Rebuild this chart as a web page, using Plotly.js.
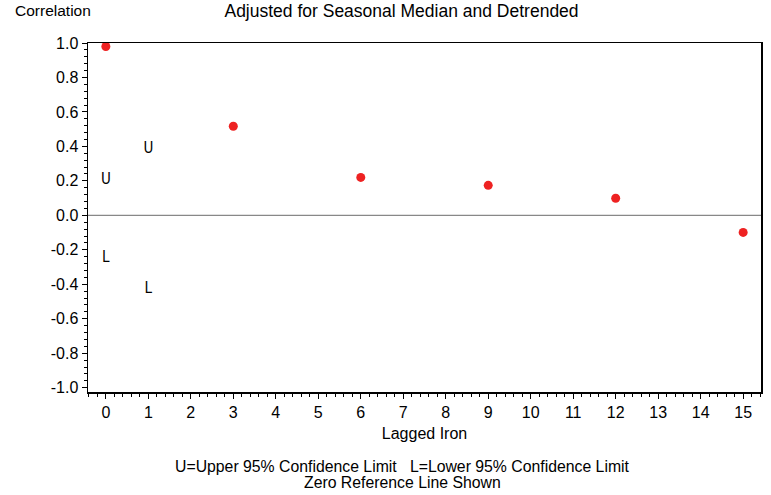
<!DOCTYPE html>
<html>
<head>
<meta charset="utf-8">
<script src="https://cdn.plot.ly/plotly-3.0.1.min.js"></script>
<style>body{margin:0;padding:0;background:#fff;}#chart{width:771px;height:495px;}</style>
</head>
<body>
<div id="chart"></div>
<script>
const lags = [0, 3, 6, 9, 12, 15];
const correlations = [0.98, 0.517, 0.22, 0.174, 0.099, -0.099];
const limitLags = [0, 1];
const upperLimits = [0.203, 0.384];
const lowerLimits = [-0.25, -0.43];
const xTicks = [0,1,2,3,4,5,6,7,8,9,10,11,12,13,14,15];
const yTicks = [1.0,0.8,0.6,0.4,0.2,0.0,-0.2,-0.4,-0.6,-0.8,-1.0];

const font = "Liberation Sans, Arial, sans-serif";
const glyphFont = {family: "DejaVu Sans Condensed, Roboto Condensed, Liberation Sans Narrow, DejaVu Sans, sans-serif", size: 15, color: '#000000', weight: 300};
const traces = [
  {x: lags, y: correlations, type: 'scatter', mode: 'markers',
   marker: {color: '#ee2222', size: 9}, cliponaxis: false},
  {x: limitLags, y: upperLimits, type: 'scatter', mode: 'text',
   text: upperLimits.map(() => 'U'), textposition: 'middle center', textfont: glyphFont},
  {x: limitLags, y: lowerLimits, type: 'scatter', mode: 'text',
   text: lowerLimits.map(() => 'L'), textposition: 'middle center', textfont: glyphFont}
];

const layout = {
  width: 771, height: 495,
  margin: {l: 88, r: 10, t: 43, b: 103},
  showlegend: false,
  paper_bgcolor: '#fff', plot_bgcolor: '#fff',
  font: {family: font, size: 16, color: '#000'},
  title: {text: 'Adjusted for Seasonal Median and Detrended', x: 0.5208, xanchor: 'center', y: 0.99, yanchor: 'top', font: {family: font, size: 17.5, color: '#000'}},
  xaxis: {
    range: [-0.42, 15.42], tickvals: xTicks, ticktext: xTicks.map(String),
    ticks: 'outside', ticklen: 5, tickwidth: 1, tickcolor: '#000',
    minor: {dtick: 0.2, ticks: 'outside', ticklen: 3, tickcolor: '#000', tickwidth: 1, showgrid: false},
    showline: true, linecolor: '#000', linewidth: 1.5, mirror: true,
    showgrid: false, zeroline: false,
    tickfont: {family: font, size: 16, color: '#000'},
    title: {text: 'Lagged Iron', font: {family: font, size: 16, color: '#000'}, standoff: 8}
  },
  yaxis: {
    range: [-1.025, 1.0], tickvals: yTicks, ticktext: yTicks.map(v => v.toFixed(1)),
    ticks: 'outside', ticklen: 5, tickwidth: 1, tickcolor: '#000',
    minor: {dtick: 0.04, ticks: 'outside', ticklen: 3, tickcolor: '#000', tickwidth: 1, showgrid: false},
    showline: true, linecolor: '#000', linewidth: 1.5, mirror: true,
    showgrid: false, zeroline: false,
    tickfont: {family: font, size: 16, color: '#000'}
  },
  shapes: [
    {type: 'line', xref: 'paper', x0: 0, x1: 1, yref: 'y', y0: 0, y1: 0, line: {color: '#888', width: 1.2}, layer: 'below'}
  ],
  annotations: [
    {text: 'Correlation', xref: 'paper', yref: 'paper', x: -0.112, xanchor: 'left', y: 1.092, yanchor: 'middle', showarrow: false, font: {family: font, size: 15.5, color: '#000'}},
    {text: 'U=Upper 95% Confidence Limit   L=Lower 95% Confidence Limit', xref: 'paper', yref: 'paper', x: 0.4666, xanchor: 'center', y: -0.214, yanchor: 'middle', showarrow: false, font: {family: font, size: 15.8, color: '#000'}},
    {text: 'Zero Reference Line Shown', xref: 'paper', yref: 'paper', x: 0.4666, xanchor: 'center', y: -0.26, yanchor: 'middle', showarrow: false, font: {family: font, size: 15.8, color: '#000'}}
  ]
};

Plotly.newPlot('chart', traces, layout, {displayModeBar: false, staticPlot: true});
</script>
</body>
</html>
